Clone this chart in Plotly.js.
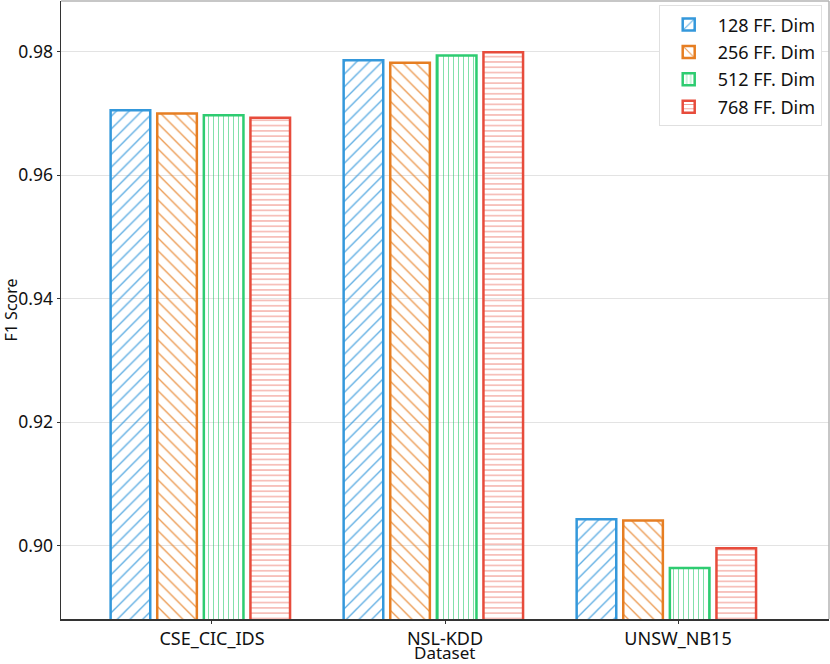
<!DOCTYPE html>
<html>
<head>
<meta charset="utf-8">
<script src="https://cdn.plot.ly/plotly-3.0.1.min.js"></script>
<style>html,body{margin:0;padding:0;background:#fff;}#chart{width:830px;height:664px;}</style>
</head>
<body>
<div id="chart"></div>
<script>
const categories = ["CSE_CIC_IDS", "NSL-KDD", "UNSW_NB15"];
const seriesNames = ["128 FF. Dim", "256 FF. Dim", "512 FF. Dim", "768 FF. Dim"];
const dim128 = [0.9705, 0.9786, 0.9043];
const dim256 = [0.9700, 0.9782, 0.9041];
const dim512 = [0.9697, 0.9794, 0.8964];
const dim768 = [0.9693, 0.9799, 0.8996];
const yTicks = [0.90, 0.92, 0.94, 0.96, 0.98];
const xTitle = "Dataset";
const yTitle = "F1 Score";

const seriesValues = [dim128, dim256, dim512, dim768];
const colors = ["#3498db", "#e67e22", "#2ecc71", "#e74c3c"];
const shapes = ["/", "\\", "|", "-"];
const psize = [9, 9, 5, 5.3];
const barWidth = 0.17;
const centers = [-0.35, -0.15, 0.05, 0.25];
const FONT = "Noto Sans, Open Sans, sans-serif";

const traces = seriesValues.map((vals, i) => ({
  type: "bar",
  name: seriesNames[i],
  legendgroup: "g" + i,
  x: categories,
  y: vals,
  width: barWidth,
  offset: centers[i] - barWidth / 2,
  marker: {
    color: "rgba(255,255,255,0)",
    line: {color: colors[i], width: 2.5},
    pattern: {shape: shapes[i], fgcolor: colors[i], fgopacity: 0.8, size: psize[i], solidity: 0.15, fillmode: "overlay", bgcolor: "rgba(255,255,255,0)"}
  },
  hoverinfo: "x+y+name"
}));

const layout = {
  width: 830,
  height: 664,
  margin: {l: 61, r: 1, t: 1, b: 45},
  paper_bgcolor: "#ffffff",
  plot_bgcolor: "#ffffff",
  barmode: "overlay",
  font: {family: FONT, size: 18, color: "#111"},
  showlegend: true,
  legend: {
    x: 0.9905, xanchor: "right", y: 0.993, yanchor: "top",
    bgcolor: "#ffffff", bordercolor: "#e0e0e0", borderwidth: 1,
    itemwidth: 48, tracegroupgap: 1,
    font: {family: FONT, size: 18, color: "#111"}
  },
  xaxis: {
    type: "category",
    range: [-0.648, 2.648],
    showgrid: false,
    showline: true, linecolor: "#333", linewidth: 1.5,
    ticks: "outside", ticklen: 3, tickcolor: "#333",
    tickfont: {family: FONT, size: 18, color: "#111"},
    zeroline: false,
    automargin: false
  },
  yaxis: {
    range: [0.88813, 0.98821],
    tickvals: yTicks,
    ticktext: yTicks.map(v => v.toFixed(2)),
    showgrid: true, gridcolor: "#e3e3e3", gridwidth: 1,
    showline: true, linecolor: "#333", linewidth: 1.5,
    ticks: "outside", ticklen: 3, tickcolor: "#333",
    tickfont: {family: FONT, size: 17.5, color: "#111"},
    title: {text: yTitle, font: {family: FONT, size: 16, color: "#111"}, standoff: 2},
    zeroline: false,
    automargin: false
  },
  annotations: [
    {text: xTitle, xref: "paper", yref: "paper", x: 0.5, y: -0.0332, xanchor: "center", yanchor: "top",
     showarrow: false, borderpad: 0, font: {family: FONT, size: 17, color: "#111"}}
  ],
  shapes: [
    {type: "line", xref: "paper", yref: "paper", x0: 0, x1: 1, y0: 1, y1: 1, line: {color: "#b5b5b5", width: 1.5}},
    {type: "line", xref: "paper", yref: "paper", x0: 1, x1: 1, y0: 0, y1: 1, line: {color: "#b5b5b5", width: 1.5}}
  ]
};

Plotly.newPlot("chart", traces, layout, {displayModeBar: false, staticPlot: true});
</script>
</body>
</html>
